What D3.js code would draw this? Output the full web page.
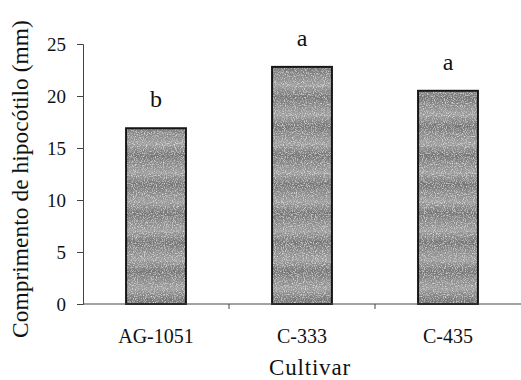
<!DOCTYPE html>
<html>
<head>
<meta charset="utf-8">
<script src="https://cdn.jsdelivr.net/npm/d3@7"></script>
<style>
  html, body { margin: 0; padding: 0; background: #fff; }
  svg { display: block; }
  text { font-family: "Liberation Serif", "DejaVu Serif", serif; fill: #111; }
</style>
</head>
<body>
<svg id="chart" width="521" height="380"></svg>
<script>
// Hypocotyl length by cultivar
const cultivars = ["AG-1051", "C-333", "C-435"];
const lengths = [16.9, 22.8, 20.5];
const groups = ["b", "a", "a"];
const yTicks = [0, 5, 10, 15, 20, 25];

const svg = d3.select("#chart");
const margin = { left: 83, top: 44, bottom: 76 };
const plotBottom = 380 - margin.bottom;

const x = d3.scaleBand()
  .domain(cultivars)
  .range([margin.left, margin.left + 438])
  .paddingInner(0.59)
  .paddingOuter(0.295);

const y = d3.scaleLinear()
  .domain([0, 25])
  .range([plotBottom, margin.top]);

// Grainy gray fill with soft horizontal banding
const defs = svg.append("defs");
const grad = defs.append("linearGradient")
  .attr("id", "band").attr("x1", 0).attr("y1", 0).attr("x2", 0).attr("y2", 1);
[[0, "#989898"], [0.35, "#767676"], [0.6, "#888888"], [1, "#a0a0a0"]]
  .forEach(([o, c]) => grad.append("stop").attr("offset", o).attr("stop-color", c));
const pat = defs.append("pattern")
  .attr("id", "barFill").attr("patternUnits", "userSpaceOnUse")
  .attr("width", 60).attr("height", 29);
pat.append("rect").attr("width", 60).attr("height", 29).attr("fill", "url(#band)");

const grain = defs.append("filter").attr("id", "grain")
  .attr("x", 0).attr("y", 0).attr("width", 1).attr("height", 1);
grain.append("feTurbulence").attr("type", "fractalNoise")
  .attr("baseFrequency", 0.9).attr("numOctaves", 2).attr("seed", 3).attr("result", "noise");
grain.append("feColorMatrix").attr("in", "noise").attr("type", "matrix")
  .attr("values", "0 0 0 0 1  0 0 0 0 1  0 0 0 0 1  1.6 0 0 0 -0.75")
  .attr("result", "specks");
grain.append("feComposite").attr("in", "specks").attr("in2", "SourceGraphic")
  .attr("operator", "in").attr("result", "clipped");
grain.append("feMerge").selectAll("feMergeNode")
  .data(["SourceGraphic", "clipped"]).join("feMergeNode").attr("in", d => d);

// Bars
const bars = svg.append("g");
bars.selectAll("rect.bar")
  .data(cultivars)
  .join("rect")
  .attr("class", "bar")
  .attr("x", d => x(d))
  .attr("y", (d, i) => y(lengths[i]))
  .attr("width", x.bandwidth())
  .attr("height", (d, i) => plotBottom - y(lengths[i]))
  .attr("fill", "url(#barFill)")
  .attr("filter", "url(#grain)");
bars.selectAll("rect.edge")
  .data(cultivars)
  .join("rect")
  .attr("class", "edge")
  .attr("x", d => x(d))
  .attr("y", (d, i) => y(lengths[i]))
  .attr("width", x.bandwidth())
  .attr("height", (d, i) => plotBottom - y(lengths[i]))
  .attr("fill", "none")
  .attr("stroke", "#161616")
  .attr("stroke-width", 2);

// Y axis
const yAxis = svg.append("g")
  .attr("transform", `translate(${margin.left},0)`)
  .call(d3.axisLeft(y).tickValues(yTicks).tickSize(6).tickPadding(11));
yAxis.select(".domain").attr("stroke", "#444").attr("stroke-width", 1);
yAxis.selectAll(".tick line").attr("stroke", "#444");
yAxis.selectAll(".tick text")
  .attr("font-family", "Liberation Serif, serif")
  .attr("font-size", 19).attr("fill", "#111");

// X axis with ticks at category boundaries
const bounds = cultivars.slice(1).map(c => x(c) - x.step() * x.paddingInner() / 2);
const xg = svg.append("g").attr("transform", `translate(0,${plotBottom})`);
xg.append("line")
  .attr("x1", margin.left).attr("x2", 521)
  .attr("stroke", "#444").attr("stroke-width", 1);
xg.selectAll("line.tk")
  .data(bounds).join("line").attr("class", "tk")
  .attr("x1", d => d).attr("x2", d => d)
  .attr("y1", 0).attr("y2", 5)
  .attr("stroke", "#444");
xg.selectAll("text")
  .data(cultivars).join("text")
  .attr("x", d => x(d) + x.bandwidth() / 2)
  .attr("y", 39)
  .attr("text-anchor", "middle")
  .attr("font-size", 20)
  .text(d => d);

// Group letters above bars
svg.selectAll("text.grp")
  .data(cultivars).join("text").attr("class", "grp")
  .attr("x", d => x(d) + x.bandwidth() / 2)
  .attr("y", (d, i) => y(lengths[i]) - 21)
  .attr("text-anchor", "middle")
  .attr("font-size", 24)
  .text((d, i) => groups[i]);

// Axis titles
svg.append("text")
  .attr("x", x(cultivars[1]) + x.bandwidth() / 2 + 8)
  .attr("y", 375)
  .attr("text-anchor", "middle")
  .attr("font-size", 23)
  .attr("letter-spacing", 0.8)
  .text("Cultivar");
svg.append("text")
  .attr("transform", "translate(28,338) rotate(-90)")
  .attr("text-anchor", "start")
  .attr("font-size", 23.5)
  .text("Comprimento de hipocótilo (mm)");
</script>
</body>
</html>
